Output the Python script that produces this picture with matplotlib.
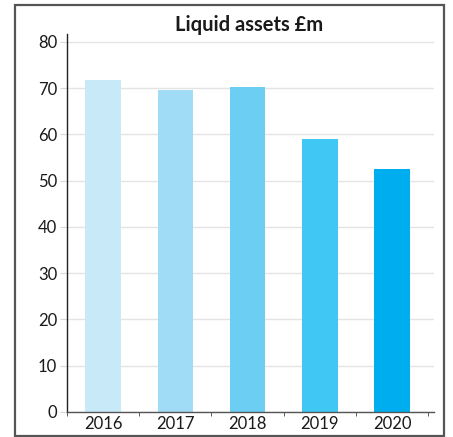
import matplotlib.pyplot as plt
from matplotlib.patches import Rectangle

years = ["2016", "2017", "2018", "2019", "2020"]
assets = [71.8, 69.7, 70.3, 59.1, 52.6]
colours = ["#C8E9F8", "#A0DCF6", "#6DCEF4", "#40C7F4", "#00AEEF"]
y_ticks = [0, 10, 20, 30, 40, 50, 60, 70, 80]

plt.rcParams['font.family'] = ['Lato', 'DejaVu Sans']

W, H = 453, 437
fig = plt.figure(figsize=(W / 100, H / 100), dpi=100)

# outer box round the whole chart
fig.patches.append(Rectangle((15 / W, 1 - 436 / H), 429 / W, 431 / H,
                             transform=fig.transFigure, fill=False,
                             edgecolor="#555555", linewidth=1.6))

ax = fig.add_axes([67 / W, 25 / H, (434 - 67) / W, (412 - 34) / H])
x = range(len(years))
ax.bar(x, assets, width=0.49, color=colours, zorder=2)

ax.set_xlim(-0.5, 4.58)
ax.set_ylim(0, 81.7)
ax.set_yticks(y_ticks)
ax.set_xticks(x)
ax.set_xticklabels(years)
ax.set_xticks([i - 0.5 for i in range(len(years) + 1)], minor=True)

ax.grid(axis='y', color="#e4e4e4", linewidth=1.0, zorder=0)
for side in ["top", "right"]:
    ax.spines[side].set_visible(False)
ax.spines["left"].set_color("#222222")
ax.spines["bottom"].set_color("#555555")
ax.spines["left"].set_linewidth(1.0)
ax.spines["bottom"].set_linewidth(1.0)

ax.tick_params(axis='y', length=5, color="#d8d8d8", labelsize=12,
               labelcolor="#1a1a1a", pad=2)
ax.tick_params(axis='x', which='major', length=0, labelsize=12,
               labelcolor="#1a1a1a", pad=3)
ax.tick_params(axis='x', which='minor', length=3, color="#444444")

fig.text(249 / W, 1 - 25 / H, "Liquid assets £m", ha='center', va='center',
         fontsize=14.5, fontweight='bold', color="#1a1a1a")

fig.savefig("out.png", dpi=100)
